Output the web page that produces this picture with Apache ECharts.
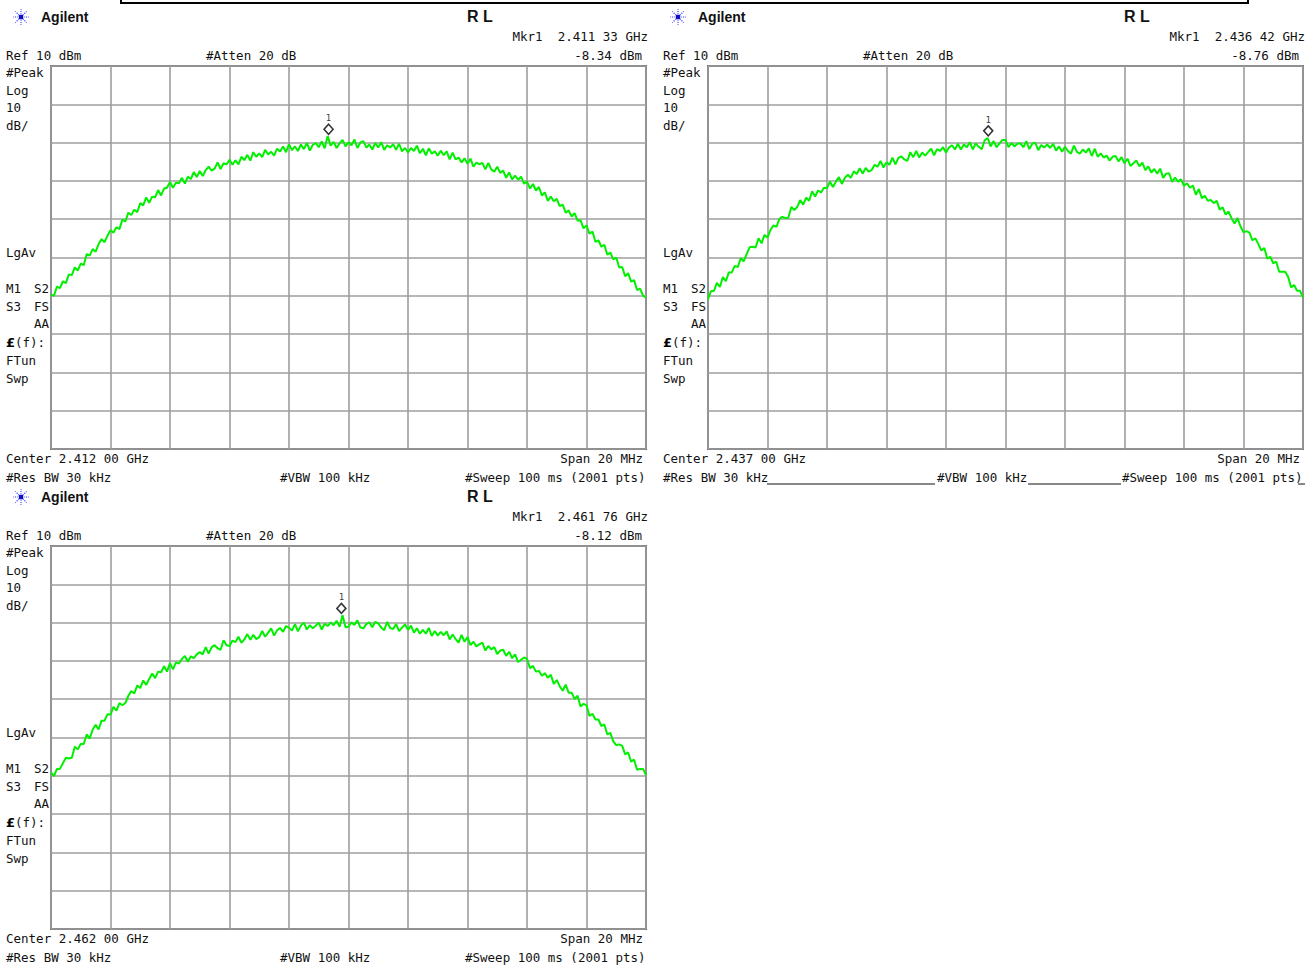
<!DOCTYPE html>
<html><head><meta charset="utf-8">
<script src="https://cdn.jsdelivr.net/npm/echarts@6/dist/echarts.min.js"></script>
<style>html,body{margin:0;padding:0;background:#fff}#c{width:1316px;height:965px}</style>
</head><body><div id="c"></div>
<script>
// ---- data (dBm), 201 samples across span, offset -10..+10 MHz from center ----
const TRACE_1 = [
-49.7,-50.0,-47.6,-48.0,-46.2, -46.7,-44.4,-44.6,-42.6,-43.4, -41.6,-42.0,-39.1,-39.5,-37.8, -38.5,-36.5,-35.2,-36.0,-34.3,
-32.9,-33.5,-32.1,-32.6,-30.1, -30.6,-28.3,-28.9,-27.5,-28.2, -25.8,-26.4,-24.3,-25.7,-24.1, -24.3,-22.4,-23.8,-22.0,-21.8,
-20.3,-21.8,-20.5,-20.6,-19.2, -20.7,-18.9,-19.5,-17.7,-19.0, -17.4,-18.7,-17.2,-16.3,-17.3, -16.8,-15.2,-16.9,-15.4,-15.7,
-14.5,-15.8,-14.6,-15.7,-13.7, -14.6,-13.2,-14.7,-12.5,-13.7, -12.8,-13.8,-11.9,-13.1,-12.4, -13.4,-11.6,-12.3,-11.0,-12.5,
-10.4,-12.0,-11.0,-12.2,-10.5, -11.7,-10.1,-12.1,-10.6,-10.1, -11.2,-9.7,-11.5,-8.3,-10.8, -9.8,-11.4,-10.2,-9.3,-11.0,
-9.9,-10.7,-9.2,-11.4,-10.0, -9.6,-11.3,-10.5,-11.8,-10.1, -11.3,-9.9,-11.9,-10.7,-11.3, -10.4,-11.9,-10.3,-12.3,-11.4,
-12.6,-11.4,-12.2,-10.8,-12.8, -11.6,-13.3,-11.5,-12.9,-12.3, -13.4,-12.1,-13.3,-12.3,-14.4, -12.6,-14.4,-13.9,-15.2,-14.1,
-15.5,-14.2,-16.3,-15.2,-15.7, -15.3,-17.0,-15.3,-17.0,-17.6, -16.3,-17.9,-17.3,-19.2,-17.8, -19.6,-18.6,-19.7,-18.9,-20.7,
-20.2,-22.0,-20.8,-22.5,-21.6, -23.8,-23.0,-25.2,-24.1,-25.3, -24.7,-26.6,-26.2,-28.3,-27.7, -29.3,-28.4,-30.4,-30.3,-32.4,
-31.6,-33.8,-33.2,-35.9,-35.5, -37.2,-36.7,-39.3,-38.7,-40.5, -40.0,-42.6,-42.5,-44.9,-44.1, -46.3,-45.9,-48.5,-48.1,-49.9,
-50.5];
const TRACE_2 = [
-50.9,-48.8,-48.7,-46.6,-47.7, -45.1,-46.2,-43.9,-43.9,-42.2, -42.5,-40.2,-41.0,-39.1,-37.3, -37.2,-37.4,-35.0,-36.3,-34.1,
-34.8,-32.8,-31.6,-32.0,-29.9, -29.4,-29.7,-29.6,-26.8,-27.6, -26.8,-25.0,-26.2,-24.4,-25.2, -22.7,-24.1,-22.5,-23.0,-21.8,
-21.9,-20.2,-21.6,-20.2,-19.0, -20.8,-19.2,-18.4,-19.2,-17.5, -18.2,-16.7,-18.1,-16.6,-17.6, -17.2,-15.8,-16.3,-14.8,-16.5,
-15.1,-15.8,-13.9,-15.7,-14.0, -13.6,-14.4,-14.8,-12.5,-13.8, -12.2,-13.9,-12.6,-13.4,-12.5, -11.6,-13.3,-11.7,-12.2,-11.2,
-12.6,-11.3,-10.7,-11.8,-10.3, -11.8,-10.5,-11.2,-9.9,-11.8, -10.2,-11.1,-11.7,-9.4,-8.8, -11.0,-9.6,-11.2,-10.2,-9.3,
-9.3,-11.2,-10.1,-11.0,-10.3, -10.2,-11.2,-9.6,-11.7,-10.3, -10.0,-12.0,-10.6,-11.3,-10.5, -11.4,-10.3,-12.1,-11.0,-12.4,
-11.1,-12.2,-12.9,-10.8,-12.4, -12.9,-11.8,-12.6,-11.5,-13.5, -11.6,-13.7,-12.8,-13.9,-13.4, -14.7,-13.7,-13.5,-14.9,-13.8,
-15.4,-14.2,-16.1,-15.4,-14.7, -16.2,-15.2,-17.2,-16.2,-17.8, -16.9,-18.1,-16.8,-19.2,-18.1, -18.0,-20.3,-19.1,-20.2,-19.6,
-21.3,-20.6,-21.8,-21.2,-23.6, -22.1,-24.5,-23.9,-25.2,-25.0, -25.8,-25.2,-27.5,-26.9,-28.8, -28.0,-29.8,-31.1,-29.7,-31.9,
-33.4,-33.1,-33.5,-35.5,-35.0, -36.5,-38.2,-37.5,-40.3,-39.8, -41.5,-41.1,-43.7,-43.7,-43.7, -45.0,-47.8,-47.2,-48.7,-48.7,
-50.4];
const TRACE_3 = [
-49.1,-50.1,-48.2,-48.2,-46.7, -45.3,-45.5,-45.3,-42.4,-43.1, -41.7,-41.7,-39.2,-40.3,-38.0, -36.7,-37.9,-35.6,-35.6,-33.9,
-34.0,-32.0,-33.0,-31.0,-31.6, -31.0,-29.1,-27.9,-28.5,-26.4, -27.1,-25.1,-26.3,-24.7,-23.3, -24.5,-22.8,-23.0,-21.4,-22.8,
-20.6,-22.2,-20.4,-20.7,-19.5, -18.7,-20.2,-18.8,-19.3,-18.3, -17.7,-18.3,-16.4,-18.1,-16.4, -15.9,-16.7,-17.1,-14.6,-15.9,
-16.1,-14.7,-15.1,-13.7,-15.3, -14.4,-13.0,-14.5,-13.2,-14.3, -13.8,-12.2,-13.7,-12.6,-11.5, -13.4,-12.0,-11.4,-12.4,-10.9,
-11.3,-12.1,-10.4,-12.3,-10.8, -10.0,-11.8,-10.7,-11.5,-10.8, -10.0,-11.8,-10.3,-10.9,-10.0, -10.7,-9.5,-11.1,-8.1,-11.2,
-11.1,-9.9,-10.6,-9.4,-11.3, -11.5,-10.4,-9.9,-11.2,-9.8, -10.2,-11.3,-12.0,-9.8,-11.4, -11.7,-10.4,-12.2,-11.3,-10.5,
-11.9,-10.8,-12.6,-11.5,-12.9, -11.9,-12.9,-11.4,-13.5,-12.2, -13.4,-12.4,-13.3,-12.3,-14.4, -13.1,-14.3,-15.2,-13.2,-15.0,
-13.8,-15.9,-15.0,-16.2,-15.7, -15.2,-17.3,-16.1,-17.0,-16.4, -18.2,-17.3,-17.1,-18.7,-17.6, -19.3,-18.3,-20.3,-19.7,-19.1,
-19.5,-21.9,-21.3,-22.8,-22.6, -23.9,-23.2,-24.4,-23.6,-26.0, -25.0,-26.6,-27.8,-26.2,-28.3, -28.3,-30.0,-29.1,-31.9,-31.2,
-31.6,-34.4,-33.8,-35.3,-35.3, -37.0,-36.6,-39.2,-38.8,-41.0, -42.0,-41.8,-42.2,-44.4,-43.9, -46.3,-45.8,-48.4,-48.2,-48.2,
-49.8];

const CENTER_GHZ = [2.412, 2.437, 2.462];
const CENTER_TEXT = ['Center 2.412 00 GHz', 'Center 2.437 00 GHz', 'Center 2.462 00 GHz'];
const MARKER_GHZ = [2.41133, 2.43642, 2.46176];
const MARKER_DBM = [-8.34, -8.76, -8.12];
const MARKER_FREQ_TEXT = ['Mkr1  2.411 33 GHz', 'Mkr1  2.436 42 GHz', 'Mkr1  2.461 76 GHz'];
const MARKER_AMP_TEXT = ['-8.34 dBm', '-8.76 dBm', '-8.12 dBm'];
const SPAN_MHZ = 20;
const REF_DBM = 10, DB_PER_DIV = 10, DIVS = 10;
const X_TICKS_MHZ = [-10, 10, 2];   // min, max, interval (offset from center)
const Y_TICKS_DBM = [-90, 10, 10];  // min, max, interval

// ---- layout ----
const PANEL_ORIGIN = [[0, 0], [657, 0], [0, 480]];
const GRID_REL = { left: 51, top: 66, width: 595, height: 383 };
const TXT = '#111111';
const MONO = '12.5px "DejaVu Sans Mono", "Liberation Mono", monospace';

const traces = [TRACE_1, TRACE_2, TRACE_3];
const step = SPAN_MHZ / (TRACE_1.length - 1);

const grids = [], xAxes = [], yAxes = [], series = [], graphics = [];

function txt(x, y, text, align, font, extra) {
  graphics.push(Object.assign({
    type: 'text', x: x, y: y, silent: true,
    style: { text: text, font: font || MONO, fill: TXT, align: align || 'left', verticalAlign: 'middle' }
  }, extra || {}));
}

PANEL_ORIGIN.forEach(function (o, i) {
  const ox = o[0], oy = o[1];
  grids.push({ left: ox + GRID_REL.left, top: oy + GRID_REL.top, width: GRID_REL.width, height: GRID_REL.height,
    show: true, borderColor: '#6a6a6a', borderWidth: 2, backgroundColor: 'transparent' });
  xAxes.push({ type: 'value', gridIndex: i, min: X_TICKS_MHZ[0], max: X_TICKS_MHZ[1], interval: X_TICKS_MHZ[2],
    axisLine: { show: false }, axisTick: { show: false }, axisLabel: { show: false },
    splitLine: { show: true, lineStyle: { color: '#9e9e9e', width: 1.6 } } });
  yAxes.push({ type: 'value', gridIndex: i, min: Y_TICKS_DBM[0], max: Y_TICKS_DBM[1], interval: Y_TICKS_DBM[2],
    axisLine: { show: false }, axisTick: { show: false }, axisLabel: { show: false },
    splitLine: { show: true, lineStyle: { color: '#9e9e9e', width: 1.6 } } });
  const pts = traces[i].map(function (v, k) { return [X_TICKS_MHZ[0] + k * step, v]; });
  series.push({ type: 'line', xAxisIndex: i, yAxisIndex: i, data: pts, symbol: 'none', silent: true,
    lineStyle: { color: '#00f000', width: 2 }, z: 3 });
  const mOff = (MARKER_GHZ[i] - CENTER_GHZ[i]) * 1000;
  series.push({ type: 'scatter', xAxisIndex: i, yAxisIndex: i, data: [[mOff, MARKER_DBM[i]]],
    symbol: 'diamond', symbolSize: [9, 10], symbolOffset: [0, -7], silent: true,
    itemStyle: { color: '#ffffff', borderColor: '#000000', borderWidth: 1.6 },
    label: { show: true, formatter: '1', position: 'top', distance: 1, fontSize: 9, color: '#000', fontFamily: 'DejaVu Sans Mono' },
    z: 6 });

  // header: Agilent starburst
  const cx = ox + 21, cy = oy + 17;
  const rays = [[1,0],[-1,0],[0,1],[0,-1],[0.7,0.7],[-0.7,0.7],[0.7,-0.7],[-0.7,-0.7]];
  rays.forEach(function (r) {
    graphics.push({ type: 'line', silent: true, shape: { x1: cx + r[0] * 2.5, y1: cy + r[1] * 2.5, x2: cx + r[0] * 8, y2: cy + r[1] * 8 },
      style: { stroke: '#3a3aff', lineWidth: 1.2, lineDash: [1.2, 1.2] } });
  });
  graphics.push({ type: 'rect', silent: true, shape: { x: cx - 2, y: cy - 2, width: 4, height: 4 }, style: { fill: '#1010c0' } });
  txt(ox + 41, oy + 17, 'Agilent', 'left', 'bold 14px "Liberation Sans", Arial, sans-serif');
  txt(ox + 467, oy + 16, 'R L', 'left', 'bold 16px "Liberation Sans", Arial, sans-serif');
  txt(ox + 648, oy + 36, MARKER_FREQ_TEXT[i], 'right');
  txt(ox + 6, oy + 55, 'Ref ' + REF_DBM + ' dBm', 'left');
  txt(ox + 206, oy + 55, '#Atten 20 dB', 'left');
  txt(ox + 642, oy + 55, MARKER_AMP_TEXT[i], 'right');
  // left annotations
  txt(ox + 6, oy + 72, '#Peak');
  txt(ox + 6, oy + 90, 'Log');
  txt(ox + 6, oy + 107, String(DB_PER_DIV));
  txt(ox + 6, oy + 125, 'dB/');
  txt(ox + 6, oy + 252, 'LgAv');
  txt(ox + 6, oy + 288, 'M1');
  txt(ox + 49, oy + 288, 'S2', 'right');
  txt(ox + 6, oy + 306, 'S3');
  txt(ox + 49, oy + 306, 'FS', 'right');
  txt(ox + 49, oy + 323, 'AA', 'right');
  graphics.push({ type: 'text', x: ox + 6, y: oy + 342, silent: true,
    style: { text: '{b|£}(f):', font: MONO, fill: TXT, verticalAlign: 'middle',
      rich: { b: { font: 'bold 13px "DejaVu Sans", sans-serif', fill: '#000' } } } });
  txt(ox + 6, oy + 360, 'FTun');
  txt(ox + 6, oy + 378, 'Swp');
  // footer
  txt(ox + 6, oy + 458, CENTER_TEXT[i]);
  txt(ox + 643, oy + 458, 'Span ' + SPAN_MHZ + ' MHz', 'right');
  txt(ox + 6, oy + 477, '#Res BW 30 kHz');
  txt(ox + 280, oy + 477, '#VBW 100 kHz');
  txt(ox + 465, oy + 477, '#Sweep 100 ms (2001 pts)');
});

// underscores in the second panel footer
[[767, 935], [1028, 1121], [1298, 1305]].forEach(function (s) {
  graphics.push({ type: 'line', silent: true, shape: { x1: s[0], y1: 484, x2: s[1], y2: 484 }, style: { stroke: TXT, lineWidth: 1 } });
});
// remnant frame at the very top
graphics.push({ type: 'polyline', silent: true, shape: { points: [[121, 0], [121, 3], [1248, 3], [1248, 0]] },
  style: { stroke: '#000', lineWidth: 2, fill: null } });

const chart = echarts.init(document.getElementById('c'), null, { renderer: 'svg' });
chart.setOption({
  animation: false,
  backgroundColor: '#ffffff',
  grid: grids, xAxis: xAxes, yAxis: yAxes, series: series,
  graphic: { elements: graphics }
});
</script></body></html>
